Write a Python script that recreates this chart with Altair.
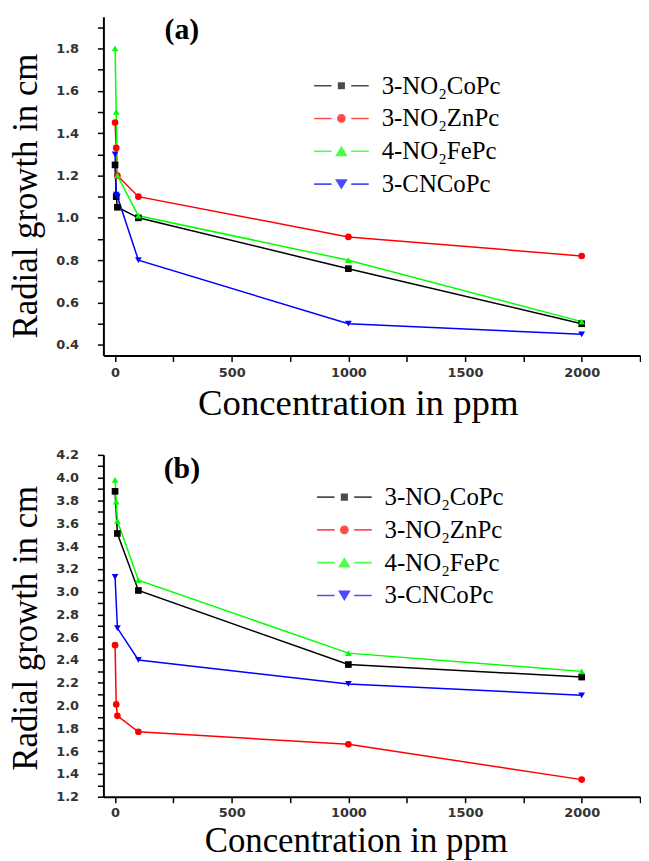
import altair as alt
import pandas as pd

# ---- data ----
conc = [0, 5, 10, 100, 1000, 2000]
series = ["3-NO₂CoPc", "3-NO₂ZnPc", "4-NO₂FePc", "3-CNCoPc"]
colors = ["#000000", "#ff0000", "#00ff00", "#0000ff"]

a_co = [1.25, 1.10, 1.05, 1.00, 0.76, 0.50]
a_zn = [1.45, 1.33, 1.20, 1.10, 0.91, 0.82]
a_fe = [1.80, 1.50, 1.20, 1.01, 0.80, 0.51]
a_cn = [1.30, 1.11, 1.10, 0.80, 0.50, 0.45]

b_co = [3.88, None, 3.51, 3.01, 2.36, 2.25]
b_zn = [2.53, 2.01, 1.91, 1.77, 1.66, 1.35]
b_fe = [3.98, 3.79, 3.62, 3.10, 2.46, 2.30]
b_cn = [3.13, None, 2.68, 2.40, 2.19, 2.09]

x_ticks = [250 * i for i in range(10)]
a_ticks = [round(0.4 + 0.1 * i, 1) for i in range(16)]
b_ticks = [round(1.2 + 0.1 * i, 1) for i in range(31)]

marker_shapes = ["square", "circle", "triangle-up", "triangle-down"]
marker_sizes = [45, 45, 160, 160]
dash = "M-1,-0.03H-0.36V0.03H-1Z M0.36,-0.03H1V0.03H0.36Z "
legend_shapes = [
    dash + "M-0.13,-0.13H0.13V0.13H-0.13Z",
    dash + "M-0.16,0A0.16,0.16 0 1,0 0.16,0A0.16,0.16 0 1,0 -0.16,0Z",
    dash + "M0,-0.2L0.23,0.18L-0.23,0.18Z",
    dash + "M0,0.2L0.23,-0.18L-0.23,-0.18Z",
]


def frame(vals_list):
    rows = []
    for s, vals in zip(series, vals_list):
        for c, v in zip(conc, vals):
            if v is not None:
                rows.append({"conc": c, "growth": v, "series": s})
    return pd.DataFrame(rows)


def panel(df, ydom, yticks, height, tag, leg_x, leg_y, ytitle_y,
          xtitle_x, xtitle_y, xtitle_size, xlab_pad):
    xenc = alt.X(
        "conc:Q",
        scale=alt.Scale(domain=[-50, 2250], nice=False, zero=False),
        axis=alt.Axis(
            values=x_ticks,
            labelExpr="(datum.value % 500 == 0 && datum.value <= 2000) ? format(datum.value, 'd') : ''",
            title="Concentration in ppm",
            titleX=xtitle_x,
            titleY=xtitle_y,
            titleAlign="center",
            titleBaseline="alphabetic",
            titleFontSize=xtitle_size,
            labelPadding=xlab_pad,
        ),
    )
    yenc = alt.Y(
        "growth:Q",
        scale=alt.Scale(domain=ydom, nice=False, zero=False),
        axis=alt.Axis(
            values=yticks,
            labelExpr="(round(datum.value * 10) % 2 == 0) ? format(datum.value, '.1f') : ''",
            title="Radial growth in cm",
            titleX=-78,
            titleY=ytitle_y,
            titleAngle=-90,
            titleAlign="center",
            titleBaseline="middle",
            titleFontSize=35,
            labelPadding=19,
        ),
    )
    cscale = alt.Scale(domain=series, range=colors)
    base = alt.Chart(df)
    lines = base.mark_line(strokeWidth=1.5).encode(
        x=xenc, y=yenc,
        color=alt.Color("series:N", scale=cscale, legend=None),
        detail="series:N",
    )
    points = base.mark_point(filled=True, opacity=1).encode(
        x=xenc, y=yenc,
        color=alt.Color("series:N", scale=cscale, legend=None),
        shape=alt.Shape("series:N", scale=alt.Scale(domain=series, range=marker_shapes), legend=None),
        size=alt.Size("series:N", scale=alt.Scale(domain=series, range=marker_sizes), legend=None),
    )
    leg = alt.Legend(
        title=None, orient="none", legendX=leg_x, legendY=leg_y,
        symbolSize=3025, clipHeight=33, rowPadding=0, padding=0,
        labelOffset=13, labelFont="Liberation Serif", labelFontSize=25,
        labelColor="black", labelLimit=0, symbolStrokeWidth=0,
    )
    legend_layer = base.transform_filter("false").mark_point(filled=True).encode(
        x=xenc, y=yenc,
        color=alt.Color("series:N", scale=cscale, legend=leg),
        shape=alt.Shape("series:N", scale=alt.Scale(domain=series, range=legend_shapes), legend=leg),
    )
    tag_layer = alt.Chart(pd.DataFrame({"tag": [tag]})).mark_text(
        font="Liberation Serif", fontSize=30, fontWeight="bold",
        align="center", baseline="middle", color="black",
    ).encode(text="tag:N", x=alt.value(79), y=alt.value(14))
    return (
        alt.layer(lines, points, legend_layer, tag_layer)
        .resolve_scale(color="independent", shape="independent", size="independent")
        .properties(width=540, height=height)
    )


pa = panel(frame([a_co, a_zn, a_fe, a_cn]), [0.35, 1.95], a_ticks, 341, "(a)",
           212, 53, 180, 256, 59, 37, 5)
pb = panel(frame([b_co, b_zn, b_fe, b_cn]), [1.2, 4.2], b_ticks, 344, "(b)",
           215, 26, 174, 254, 55, 35, 4)

chart = (
    alt.vconcat(pa, pb, spacing=100, bounds="flush")
    .resolve_scale(color="independent", shape="independent", size="independent",
                   x="independent", y="independent")
    .properties(padding={"left": 1, "top": 5, "right": 0, "bottom": 0}, background="white")
    .configure_view(stroke=None)
    .configure_axis(
        grid=False,
        domainColor="black", domainWidth=2,
        tickColor="black", tickWidth=1.5, tickSize=6,
        labelFont="DejaVu Sans", labelFontWeight="bold", labelFontSize=13,
        labelColor="#333333", labelOverlap=False, labelFlush=False,
        titleFont="Liberation Serif", titleFontWeight="normal", titleColor="black",
    )
)

chart.save("out.html", embed_options={"renderer": "svg", "actions": False})
